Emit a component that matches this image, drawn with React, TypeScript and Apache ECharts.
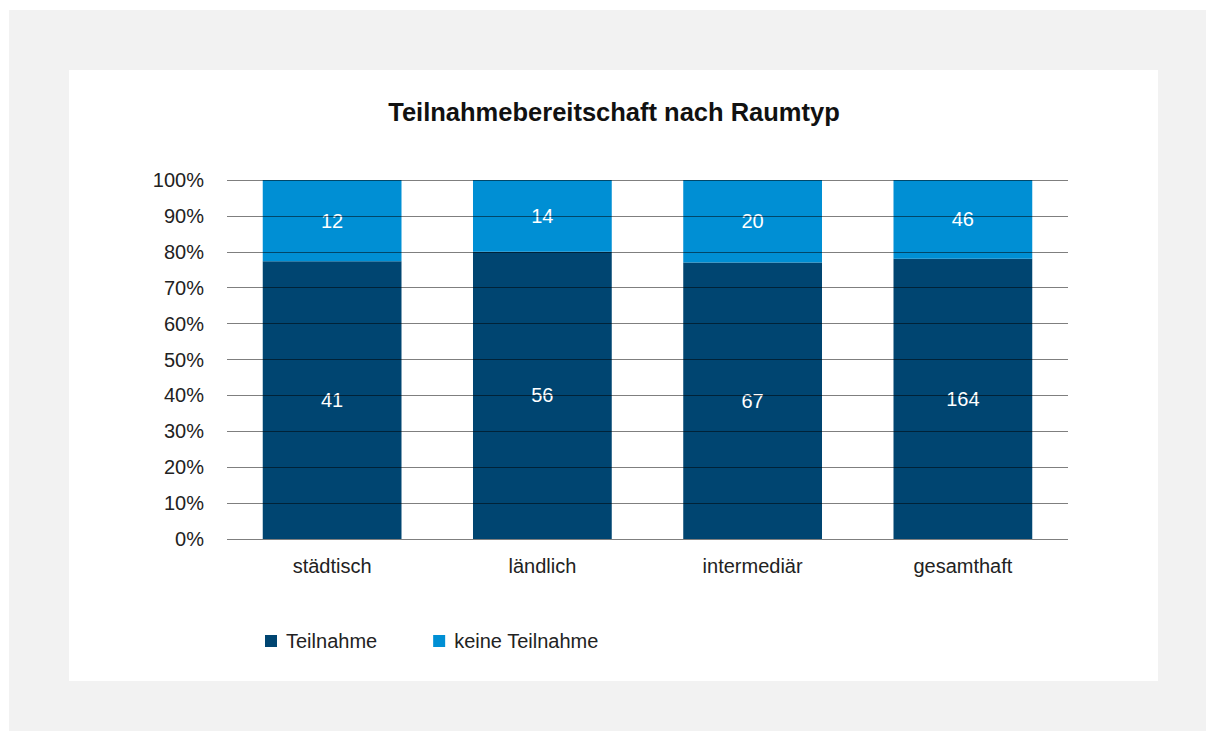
import React, { useEffect, useRef } from "react";
import * as echarts from "echarts";

const categories = ["städtisch", "ländlich", "intermediär", "gesamthaft"];
const teilnahme = [41, 56, 67, 164];
const keineTeilnahme = [12, 14, 20, 46];
const seriesNames = ["Teilnahme", "keine Teilnahme"];
const colors = ["#004571", "#008fd4"];

const FONT = "'Liberation Sans', Arial, sans-serif";

export default function App() {
  const ref = useRef<HTMLDivElement>(null);
  useEffect(() => {
    if (!ref.current) return;
    const chart = echarts.init(ref.current, undefined, { renderer: "svg" });
    const totals = teilnahme.map((v, i) => v + keineTeilnahme[i]);
    const pct = (arr: number[]) =>
      arr.map((v, i) => ({ value: (v / totals[i]) * 100, count: v }));
    const labelCfg = {
      show: true,
      position: "inside",
      color: "#ffffff",
      fontSize: 20,
      fontFamily: FONT,
      formatter: (p: any) => String(p.data.count),
    };
    chart.setOption({
      animation: false,
      textStyle: { fontFamily: FONT },
      graphic: [
        { type: "rect", z: -10, shape: { x: 9, y: 10, width: 1197, height: 721 }, style: { fill: "#f2f2f2" } },
        { type: "rect", z: -9, shape: { x: 69, y: 70, width: 1089, height: 611 }, style: { fill: "#ffffff" } },
      ],
      title: {
        text: "Teilnahmebereitschaft nach Raumtyp",
        left: 609,
        textAlign: "center",
        top: 94,
        textStyle: { fontFamily: FONT, fontSize: 25.5, fontWeight: "bold", color: "#111111" },
      },
      legend: {
        left: 260,
        top: 626,
        itemWidth: 12,
        itemHeight: 12,
        itemGap: 56,
        icon: "rect",
        textStyle: { fontFamily: FONT, fontSize: 20, color: "#222222", padding: [0, 0, 0, 4] },
        data: seriesNames,
      },
      grid: { left: 227, right: 138, top: 180, bottom: 192, containLabel: false },
      xAxis: {
        type: "category",
        data: categories,
        axisLine: { show: false },
        axisTick: { show: false },
        axisLabel: { fontFamily: FONT, fontSize: 20, color: "#222222", margin: 17 },
      },
      yAxis: {
        type: "value",
        min: 0,
        max: 100,
        interval: 10,
        z: 5,
        axisLine: { show: false },
        axisTick: { show: false },
        axisLabel: { fontFamily: FONT, fontSize: 20, color: "#222222", margin: 23, formatter: "{value}%" },
        splitLine: { lineStyle: { color: "rgba(0,0,0,0.5)", width: 1 } },
      },
      series: [
        {
          name: seriesNames[0],
          type: "bar",
          stack: "total",
          barWidth: "66%",
          itemStyle: { color: colors[0] },
          label: labelCfg,
          data: pct(teilnahme),
        },
        {
          name: seriesNames[1],
          type: "bar",
          stack: "total",
          barWidth: "66%",
          itemStyle: { color: colors[1] },
          label: labelCfg,
          data: pct(keineTeilnahme),
        },
      ],
    });
    return () => chart.dispose();
  }, []);
  return (
    <div style={{ position: "absolute", left: 0, top: 0, width: 1206, height: 731, background: "#ffffff" }}>
      <div ref={ref} style={{ width: 1206, height: 731 }} />
    </div>
  );
}
